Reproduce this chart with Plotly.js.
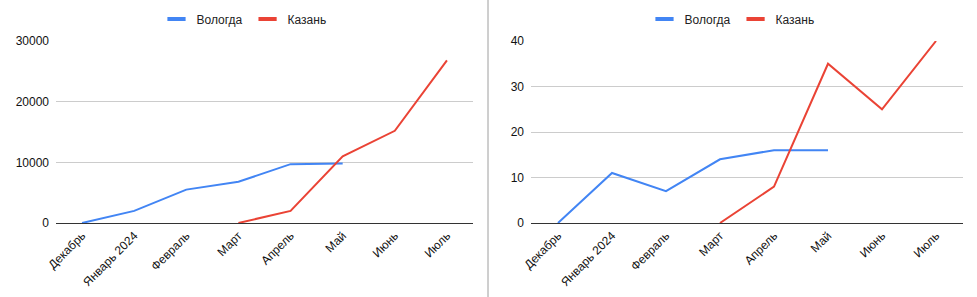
<!DOCTYPE html>
<html><head><meta charset="utf-8">
<script src="https://cdn.plot.ly/plotly-3.0.1.min.js"></script>
<style>html,body{margin:0;padding:0;background:#fff}#c{width:977px;height:297px}</style>
</head><body><div id="c"></div>
<script>
const months = ['Декабрь','Январь 2024','Февраль','Март','Апрель','Май','Июнь','Июль'];
const seriesNames = ['Вологда','Казань'];
const colors = ['#4285F4','#EA4335'];
// Left chart values
const leftVologda = [0, 2000, 5500, 6800, 9700, 9800, null, null];
const leftKazan   = [null, null, null, 0, 2000, 11000, 15200, 26800];
// Right chart values
const rightVologda = [0, 11, 7, 14, 16, 16, null, null];
const rightKazan   = [null, null, null, 0, 8, 35, 25, 40];

const W = 977, H = 297;
const font = {family: 'Liberation Sans, Arial, sans-serif', size: 12, color: '#222'};
function mk(y, i, ax, leg) {
  return {x: months, y: y, type: 'scatter', mode: 'lines', name: seriesNames[i],
    xaxis: ax[0], yaxis: ax[1], line: {color: colors[i], width: 2}, showlegend: false,
    connectgaps: false, hoverinfo: 'skip'};
}
function legendDummy(i, leg) {
  return {x: [null], y: [null], type: 'scatter', mode: 'markers', name: seriesNames[i],
    legend: leg, marker: {symbol: 'line-ew', size: 13, color: colors[i], line: {color: colors[i], width: 4}},
    showlegend: true, hoverinfo: 'skip'};
}
const data = [
  mk(leftVologda, 0, ['x','y']), mk(leftKazan, 1, ['x','y']),
  mk(rightVologda, 0, ['x2','y2']), mk(rightKazan, 1, ['x2','y2']),
  legendDummy(0, 'legend'), legendDummy(1, 'legend'),
  legendDummy(0, 'legend2'), legendDummy(1, 'legend2')
];
const yDom = [(H-223)/H, (H-41)/H];
const xa = {type: 'category', range: [-0.5, 7.5], tickangle: -45, showgrid: false,
  showline: true, linecolor: '#333', linewidth: 1, ticks: '', tickfont: {family: font.family, size: 12, color: '#111'},
  zeroline: false, fixedrange: true};
const ya = {showgrid: true, gridcolor: '#ccc', gridwidth: 1, zeroline: false, showline: false, ticks: '',
  tickfont: {family: font.family, size: 12, color: '#111'}, fixedrange: true, ticklabelstandoff: 6};
const layout = {
  width: W, height: H, margin: {l: 0, r: 0, t: 0, b: 0}, paper_bgcolor: '#fff', plot_bgcolor: '#fff',
  font: font,
  xaxis: Object.assign({}, xa, {domain: [56/W, 473/W], anchor: 'y'}),
  yaxis: Object.assign({}, ya, {domain: yDom, range: [0, 30000], dtick: 10000, anchor: 'x', tickformat: 'd'}),
  xaxis2: Object.assign({}, xa, {domain: [531/W, 963/W], anchor: 'y2'}),
  yaxis2: Object.assign({}, ya, {domain: yDom, range: [0, 40], dtick: 10, anchor: 'x2'}),
  legend: {orientation: 'h', x: 244/W, xanchor: 'center', y: (H-19)/H, yanchor: 'middle',
    font: {family: font.family, size: 12, color: '#222'}, itemwidth: 30, bgcolor: 'rgba(0,0,0,0)'},
  legend2: {orientation: 'h', x: 732/W, xanchor: 'center', y: (H-19)/H, yanchor: 'middle',
    font: {family: font.family, size: 12, color: '#222'}, itemwidth: 30, bgcolor: 'rgba(0,0,0,0)'},
  shapes: [{type: 'line', xref: 'paper', yref: 'paper', x0: 488/W, x1: 488/W, y0: 0, y1: 1,
    line: {color: '#9e9e9e', width: 1}}],
  showlegend: true
};
Plotly.newPlot('c', data, layout, {displayModeBar: false, staticPlot: true});
</script></body></html>
